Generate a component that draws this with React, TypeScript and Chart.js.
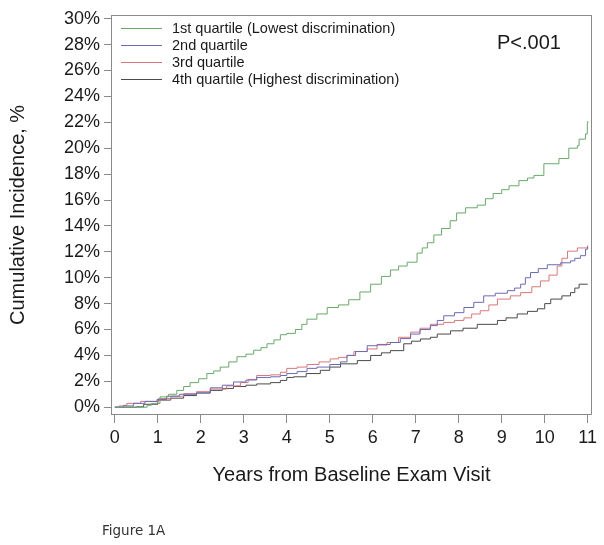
import React, { useEffect, useRef } from "react";
import { Chart, registerables } from "chart.js";

Chart.register(...registerables);

const seriesLabels = [
  "1st quartile (Lowest discrimination)",
  "2nd quartile",
  "3rd quartile",
  "4th quartile (Highest discrimination)",
];

const xTicks = [0, 1, 2, 3, 4, 5, 6, 7, 8, 9, 10, 11];
const yTicks = [0, 2, 4, 6, 8, 10, 12, 14, 16, 18, 20, 22, 24, 26, 28, 30];

// [years, cumulative incidence %]
const q1: [number, number][] = [
  [0, 0], [0.65, 0], [0.75, 0.15], [0.85, 0.3], [1.05, 0.8], [1.25, 1.0], [1.44, 1.3], [1.6, 1.6],
  [1.75, 1.9], [1.95, 2.2], [2.14, 2.6], [2.3, 2.8], [2.45, 3.1], [2.65, 3.5], [2.84, 3.9], [3.05, 4.1],
  [3.23, 4.4], [3.4, 4.6], [3.54, 4.9], [3.7, 5.2], [3.85, 5.6], [4.0, 5.7], [4.2, 6.0], [4.35, 6.4],
  [4.47, 6.8], [4.7, 7.2], [4.94, 7.7], [5.2, 7.9], [5.44, 8.3], [5.7, 8.9], [5.95, 9.5], [6.2, 10.1],
  [6.41, 10.6], [6.6, 10.9], [6.8, 11.2], [7.03, 11.9], [7.15, 12.3], [7.27, 12.7], [7.42, 13.3],
  [7.6, 13.8], [7.8, 14.4], [7.95, 15.0], [8.16, 15.4], [8.43, 15.6], [8.62, 16.1], [8.8, 16.5],
  [9.0, 16.8], [9.17, 17.1], [9.4, 17.5], [9.6, 17.7], [9.75, 17.9], [9.98, 18.8], [10.33, 19.2],
  [10.56, 20.0], [10.76, 20.2], [10.8, 20.7], [10.95, 21.1], [10.99, 21.9], [11.0, 22.1],
];

const q2: [number, number][] = [
  [0, 0], [0.2, 0.1], [0.43, 0.3], [0.7, 0.45], [0.98, 0.6], [1.2, 0.85], [1.5, 1.0], [1.9, 1.1],
  [2.22, 1.5], [2.5, 1.7], [2.76, 1.95], [3.05, 2.1], [3.3, 2.3], [3.62, 2.35], [3.85, 2.45],
  [4.0, 2.6], [4.24, 2.75], [4.47, 3.0], [4.7, 3.1], [5.0, 3.3], [5.25, 3.5], [5.4, 4.0], [5.6, 4.3],
  [5.87, 4.75], [6.1, 4.85], [6.41, 5.0], [6.64, 5.3], [6.88, 5.65], [7.1, 6.0], [7.34, 6.3],
  [7.5, 6.7], [7.65, 7.06], [7.9, 7.3], [8.12, 7.7], [8.35, 8.1], [8.58, 8.6], [8.85, 8.8],
  [9.13, 9.0], [9.3, 9.2], [9.44, 9.5], [9.55, 10.0], [9.67, 10.4], [9.85, 10.7], [10.06, 11.0],
  [10.37, 11.15], [10.6, 11.3], [10.7, 11.5], [10.83, 11.7], [10.95, 12.2], [11.0, 12.4],
];

const q3: [number, number][] = [
  [0, 0], [0.1, 0.1], [0.2, 0.15], [0.28, 0.3], [0.6, 0.45], [1.02, 0.67], [1.3, 0.85], [1.6, 1.05],
  [1.9, 1.2], [2.22, 1.4], [2.6, 1.65], [2.92, 1.9], [3.1, 2.15], [3.3, 2.45], [3.62, 2.5],
  [3.85, 2.7], [4.0, 3.0], [4.24, 3.1], [4.47, 3.3], [4.75, 3.5], [5.01, 3.73], [5.2, 3.85],
  [5.4, 4.0], [5.56, 4.3], [5.87, 4.5], [6.1, 4.8], [6.33, 5.0], [6.6, 5.4], [6.88, 5.8], [7.1, 6.1],
  [7.34, 6.4], [7.65, 6.55], [7.9, 6.7], [8.12, 6.9], [8.3, 7.2], [8.5, 7.45], [8.7, 7.9],
  [8.9, 8.35], [9.2, 8.6], [9.44, 8.85], [9.7, 9.3], [9.9, 9.75], [10.1, 10.2], [10.29, 10.9],
  [10.4, 11.5], [10.53, 12.05], [10.76, 12.3], [10.99, 12.4], [11.0, 12.5],
];

const q4: [number, number][] = [
  [0, 0], [0.5, 0.03], [0.67, 0.23], [1.0, 0.55], [1.3, 0.7], [1.6, 0.9], [1.9, 1.1], [2.22, 1.3],
  [2.5, 1.45], [2.76, 1.6], [3.05, 1.7], [3.3, 1.8], [3.62, 1.9], [3.85, 2.07], [4.0, 2.3],
  [4.16, 2.35], [4.45, 2.6], [4.78, 2.85], [5.0, 3.1], [5.25, 3.35], [5.64, 3.6], [5.95, 4.0],
  [6.2, 4.2], [6.41, 4.37], [6.72, 4.9], [6.9, 5.1], [7.11, 5.27], [7.34, 5.4], [7.5, 5.65],
  [7.81, 5.9], [8.1, 6.1], [8.43, 6.4], [8.9, 6.7], [9.1, 6.9], [9.36, 7.2], [9.6, 7.4], [9.83, 7.6],
  [10.0, 8.0], [10.14, 8.35], [10.4, 8.6], [10.6, 8.85], [10.7, 9.2], [10.8, 9.5], [11.0, 9.5],
];

const seriesData = [q1, q2, q3, q4];
const seriesColors = ["#6aa86a", "#6a6ab4", "#d8787a", "#4a4a4a"];

const FONT = "'Liberation Sans', Arial, Helvetica, sans-serif";
const AXIS_GRAY = "#8a8a8a";

const overlayPlugin = {
  id: "overlay",
  afterDraw(chart: any) {
    const { ctx, chartArea } = chart;
    ctx.save();
    // box
    ctx.strokeStyle = AXIS_GRAY;
    ctx.lineWidth = 1;
    ctx.strokeRect(
      Math.round(chartArea.left) + 0.5,
      Math.round(chartArea.top) + 0.5,
      Math.round(chartArea.right - chartArea.left) - 1,
      Math.round(chartArea.bottom - chartArea.top) - 1
    );
    // legend
    const x0 = chartArea.left + 10;
    const y0 = chartArea.top + 13;
    ctx.font = `14.5px ${FONT}`;
    ctx.textBaseline = "middle";
    ctx.textAlign = "left";
    seriesLabels.forEach((lab, i) => {
      const y = Math.round(y0 + i * 17) + 0.5;
      ctx.strokeStyle = seriesColors[i];
      ctx.beginPath();
      ctx.moveTo(x0, y);
      ctx.lineTo(x0 + 41, y);
      ctx.stroke();
      ctx.fillStyle = "#1a1a1a";
      ctx.fillText(lab, x0 + 51, y);
    });
    // p-value
    ctx.font = `20px ${FONT}`;
    ctx.fillStyle = "#1a1a1a";
    ctx.fillText("P<.001", chartArea.left + 386, chartArea.top + 29);
    ctx.restore();
  },
};

export default function App() {
  const ref = useRef<HTMLCanvasElement | null>(null);
  useEffect(() => {
    if (!ref.current) return;
    const chart = new Chart(ref.current, {
      type: "line",
      data: {
        datasets: seriesData.map((d, i) => ({
          label: seriesLabels[i],
          data: d.map(([x, y]) => ({ x, y })),
          borderColor: seriesColors[i],
          backgroundColor: seriesColors[i],
          borderWidth: 1,
          pointRadius: 0,
          stepped: true,
          fill: false,
        })),
      },
      options: {
        animation: false,
        responsive: false,
        maintainAspectRatio: false,
        layout: { padding: { left: 0, top: 12, right: 12, bottom: 0 } },
        plugins: { legend: { display: false }, tooltip: { enabled: false } },
        scales: {
          x: {
            type: "linear",
            min: -0.09,
            max: 11.1,
            afterBuildTicks: (s: any) => {
              s.ticks = xTicks.map((v) => ({ value: v }));
            },
            afterFit: (s: any) => {
              s.height = 130;
            },
            grid: { drawOnChartArea: false, drawTicks: true, tickLength: 8, color: AXIS_GRAY },
            border: { display: false },
            ticks: {
              color: "#1a1a1a",
              font: { family: FONT, size: 18 },
              padding: 4,
              maxRotation: 0,
              autoSkip: false,
            },
            title: {
              display: true,
              text: "Years from Baseline Exam Visit",
              color: "#1a1a1a",
              font: { family: FONT, size: 20 },
              padding: { top: 0, bottom: 58 },
            },
          },
          y: {
            type: "linear",
            min: -0.6,
            max: 30.3,
            afterBuildTicks: (s: any) => {
              s.ticks = yTicks.map((v) => ({ value: v }));
            },
            afterFit: (s: any) => {
              s.width = 111;
            },
            grid: { drawOnChartArea: false, drawTicks: true, tickLength: 7, color: AXIS_GRAY },
            border: { display: false },
            ticks: {
              color: "#1a1a1a",
              font: { family: FONT, size: 18 },
              padding: 4,
              autoSkip: false,
              callback: (v: any) => `${v}%`,
            },
            title: {
              display: true,
              text: "Cumulative Incidence, %",
              color: "#1a1a1a",
              font: { family: FONT, size: 20 },
              padding: { top: 6, bottom: 0 },
            },
          },
        },
      },
      plugins: [overlayPlugin],
    });
    return () => chart.destroy();
  }, []);

  return (
    <div style={{ position: "absolute", left: 0, top: 0, width: 604, height: 545, background: "#fff" }}>
      <canvas ref={ref} width={604} height={545} style={{ display: "block", width: 604, height: 545 }} />
      <div
        style={{
          position: "absolute",
          left: 102,
          top: 521,
          fontFamily: "'DejaVu Sans', Verdana, sans-serif",
          fontSize: 13.5,
          color: "#333",
          lineHeight: "18px",
        }}
      >
        Figure 1A
      </div>
    </div>
  );
}
